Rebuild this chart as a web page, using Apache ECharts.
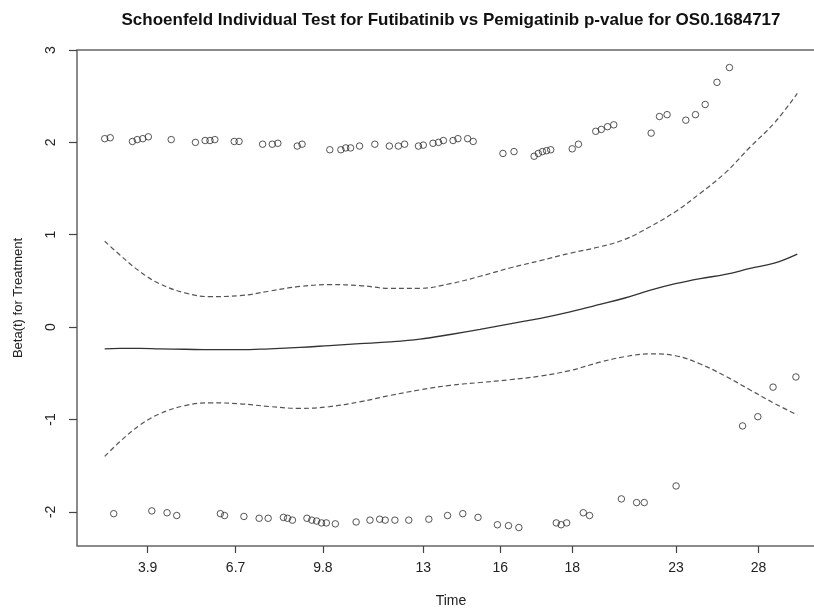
<!DOCTYPE html>
<html>
<head>
<meta charset="utf-8">
<script src="https://cdn.jsdelivr.net/npm/echarts@6/dist/echarts.min.js"></script>
<style>html,body{margin:0;padding:0;background:#fff}#c{width:814px;height:610px}</style>
</head>
<body>
<div id="c"></div>
<script>
// x values are on the transformed (KM) time scale used by cox.zph plots
const tickPos = [0.062, 0.189, 0.315, 0.460, 0.571, 0.675, 0.825, 0.944];
const tickLabels = ['3.9', '6.7', '9.8', '13', '16', '18', '23', '28'];
const yTicks = [-2, -1, 0, 1, 2, 3];

const upperX = [0.000,0.008,0.040,0.047,0.055,0.063,0.096,0.131,0.145,0.152,0.159,0.187,0.194,0.228,0.242,0.250,0.278,0.285,0.325,0.341,0.348,0.355,0.368,0.390,0.411,0.424,0.433,0.453,0.460,0.474,0.482,0.489,0.503,0.510,0.524,0.532,0.575,0.591,0.620,0.626,0.632,0.638,0.644,0.675,0.684,0.709,0.717,0.726,0.735,0.789,0.801,0.812,0.839,0.853,0.867,0.884,0.902];
const upperY = [2.04,2.05,2.01,2.03,2.04,2.06,2.03,2.00,2.02,2.02,2.03,2.01,2.01,1.98,1.98,1.99,1.96,1.98,1.92,1.92,1.94,1.94,1.96,1.98,1.96,1.96,1.98,1.96,1.97,1.99,2.00,2.02,2.02,2.04,2.04,2.01,1.88,1.90,1.85,1.88,1.90,1.91,1.92,1.93,1.98,2.12,2.14,2.17,2.19,2.10,2.28,2.30,2.24,2.30,2.41,2.65,2.81];

const lowerX = [0.013,0.068,0.090,0.104,0.167,0.173,0.201,0.223,0.236,0.258,0.264,0.271,0.292,0.299,0.306,0.313,0.320,0.333,0.363,0.383,0.397,0.405,0.419,0.439,0.468,0.495,0.517,0.539,0.567,0.583,0.598,0.652,0.659,0.667,0.691,0.700,0.746,0.768,0.779,0.825,0.921,0.943,0.965,0.998];
const lowerY = [-2.02,-1.99,-2.01,-2.04,-2.02,-2.04,-2.05,-2.07,-2.07,-2.06,-2.07,-2.09,-2.07,-2.09,-2.10,-2.12,-2.12,-2.13,-2.11,-2.09,-2.08,-2.09,-2.09,-2.09,-2.08,-2.04,-2.02,-2.06,-2.14,-2.15,-2.17,-2.12,-2.14,-2.12,-2.01,-2.04,-1.86,-1.90,-1.90,-1.72,-1.07,-0.97,-0.65,-0.54];

const curveX = [0,0.022,0.051,0.079,0.116,0.152,0.195,0.238,0.282,0.325,0.368,0.412,0.455,0.499,0.542,0.585,0.629,0.672,0.715,0.751,0.788,0.824,0.860,0.896,0.932,0.968,1.0];
const fitY = [-0.235,-0.23,-0.23,-0.235,-0.24,-0.245,-0.245,-0.235,-0.22,-0.20,-0.18,-0.16,-0.13,-0.08,-0.025,0.035,0.095,0.165,0.245,0.315,0.40,0.47,0.525,0.57,0.635,0.695,0.79];
const bandHi = [0.93,0.78,0.60,0.47,0.37,0.33,0.34,0.39,0.44,0.46,0.45,0.42,0.42,0.47,0.55,0.64,0.72,0.80,0.87,0.95,1.09,1.25,1.45,1.67,1.95,2.22,2.53];
const bandLo = [-1.40,-1.24,-1.06,-0.94,-0.85,-0.82,-0.83,-0.86,-0.88,-0.86,-0.81,-0.74,-0.68,-0.63,-0.60,-0.57,-0.53,-0.47,-0.38,-0.32,-0.29,-0.31,-0.40,-0.53,-0.68,-0.83,-0.95];

const zip = (a, b) => a.map((v, i) => [v, b[i]]);
const font = 'Liberation Sans, Arial, sans-serif';
const pointStyle = {color: 'rgba(0,0,0,0)', borderColor: '#2a2a2a', borderWidth: 1};

const chart = echarts.init(document.getElementById('c'), null, {renderer: 'canvas'});
chart.setOption({
  animation: false,
  backgroundColor: '#fff',
  grid: {left: 77, right: -11, top: 50, bottom: 64, show: true, borderColor: '#666', borderWidth: 1.5,
         backgroundColor: 'transparent', containLabel: false, outerBoundsMode: 'none'},
  graphic: [{
    type: 'text', x: 451, y: 20,
    style: {text: 'Schoenfeld Individual Test for Futibatinib vs Pemigatinib p-value for OS0.1684717', font: 'bold 17px ' + font, fill: '#111', textAlign: 'center', textVerticalAlign: 'middle'}
  }],
  xAxis: {
    type: 'value', min: -0.04, max: 1.04,
    name: 'Time', nameLocation: 'middle', nameGap: 48,
    nameTextStyle: {fontFamily: font, fontSize: 14, color: '#222'},
    axisLine: {show: false, onZero: false},
    splitLine: {show: false},
    axisTick: {show: true, length: 7, inside: false, lineStyle: {color: '#444', width: 1.2}, customValues: tickPos},
    axisLabel: {show: true, margin: 15, fontFamily: font, fontSize: 14, color: '#222', customValues: tickPos,
      formatter: v => { const i = tickPos.findIndex(t => Math.abs(t - v) < 1e-6); return i >= 0 ? tickLabels[i] : ''; }}
  },
  yAxis: {
    type: 'value', min: -2.37, max: 3.0,
    name: 'Beta(t) for Treatment', nameLocation: 'middle', nameGap: 52, nameRotate: 90,
    nameTextStyle: {fontFamily: font, fontSize: 13, color: '#222'},
    axisLine: {show: false, onZero: false},
    splitLine: {show: false},
    axisTick: {show: true, length: 8, lineStyle: {color: '#444', width: 1.2}, customValues: yTicks},
    axisLabel: {show: true, rotate: 90, margin: 19, fontFamily: font, fontSize: 14, color: '#222', customValues: yTicks}
  },
  series: [
    {type: 'scatter', data: zip(upperX, upperY), symbol: 'circle', symbolSize: 6.5, itemStyle: pointStyle, z: 3},
    {type: 'scatter', data: zip(lowerX, lowerY), symbol: 'circle', symbolSize: 6.5, itemStyle: pointStyle, z: 3},
    {type: 'line', data: zip(curveX, fitY), smooth: 0.4, showSymbol: false, lineStyle: {color: '#333', width: 1.3}},
    {type: 'line', data: zip(curveX, bandHi), smooth: 0.4, showSymbol: false, lineStyle: {color: '#555', width: 1.2, type: [5, 3]}},
    {type: 'line', data: zip(curveX, bandLo), smooth: 0.4, showSymbol: false, lineStyle: {color: '#555', width: 1.2, type: [5, 3]}}
  ]
});
</script>
</body>
</html>
